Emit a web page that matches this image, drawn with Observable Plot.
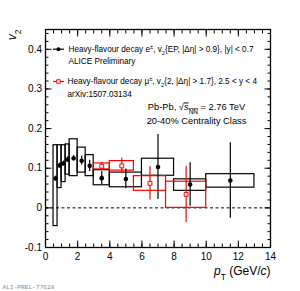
<!DOCTYPE html>
<html><head><meta charset="utf-8">
<script src="https://cdn.jsdelivr.net/npm/d3@7"></script>
<script src="https://cdn.jsdelivr.net/npm/@observablehq/plot@0.6"></script>
<style>body{margin:0;background:#fff} svg{display:block}</style>
</head><body><div id="chart"></div>
<script>
// Heavy-flavour decay electrons, v2{EP}
const ePt     = [0.625, 0.875, 1.125, 1.375, 1.75, 2.25, 2.75, 3.5, 5.0, 7.0, 9.0, 11.5];
const eV2     = [0.074, 0.107, 0.112, 0.122, 0.125, 0.119, 0.106, 0.075, 0.073, 0.103, 0.059, 0.069];
const eStat   = [0.006, 0.006, 0.006, 0.007, 0.007, 0.011, 0.014, 0.017, 0.025, 0.082, 0.055, 0.095];
const eBinLo  = [0.5, 0.75, 1.0, 1.25, 1.5, 2.0, 2.5, 3.0, 4.0, 6.0, 8.0, 10.0];
const eBinHi  = [0.75, 1.0, 1.25, 1.5, 2.0, 2.5, 3.0, 4.0, 6.0, 8.0, 10.0, 13.0];
const eSysLo  = [-0.046, 0.050, 0.065, 0.084, 0.080, 0.089, 0.080, 0.057, 0.052, 0.081, 0.043, 0.051];
const eSysHi  = [0.158, 0.158, 0.158, 0.160, 0.173, 0.152, 0.133, 0.095, 0.089, 0.124, 0.072, 0.085];
// Heavy-flavour decay muons, v2{2}
const mPt     = [3.5, 4.75, 6.5, 8.75];
const mV2     = [0.105, 0.106, 0.062, 0.034];
const mStat   = [0.010, 0.020, 0.042, 0.071];
const mBinLo  = [3.0, 4.0, 5.5, 7.5];
const mBinHi  = [4.0, 5.5, 7.5, 10.0];
const mSysLo  = [0.097, 0.094, 0.043, 0.000];
const mSysHi  = [0.112, 0.118, 0.080, 0.066];
// axes
const xMajor = [0, 2, 4, 6, 8, 10, 12, 14];
const yMajor = [-0.1, 0, 0.1, 0.2, 0.3, 0.4];
const xMinor = d3.range(0, 14.001, 0.5);
const yMinor = d3.range(-0.1, 0.4501, 0.02);

const eRows = ePt.map((x, i) => ({x, v: eV2[i], s: eStat[i], x1: eBinLo[i], x2: eBinHi[i], y1: eSysLo[i], y2: eSysHi[i]}));
const mRows = mPt.map((x, i) => ({x, v: mV2[i], s: mStat[i], x1: mBinLo[i], x2: mBinHi[i], y1: mSysLo[i], y2: mSysHi[i]}));

const RED = "#ff0000";
const FONT = "'Liberation Sans', Arial, Helvetica, sans-serif";
const lineSym = {draw(ctx) { ctx.moveTo(-5.5, 0); ctx.lineTo(5.5, 0); }};

const label = (str, o) => Plot.text([str], {text: d => d, frameAnchor: "top-left", className: "rich", fill: "#000", ...o});

const chart = Plot.plot({
  width: 300, height: 291,
  marginLeft: 45, marginRight: 30, marginTop: 29, marginBottom: 44,
  style: {fontFamily: FONT, background: "#fff", overflow: "visible"},
  x: {domain: [0, 14], axis: null},
  y: {domain: [-0.1, 0.45], axis: null},
  marks: [
    Plot.ruleY([0], {stroke: "#000", strokeWidth: 1, strokeDasharray: "3,2.5"}),
    Plot.rect(eRows, {x1: "x1", x2: "x2", y1: "y1", y2: "y2", fill: "none", stroke: "#000", strokeWidth: 1.2}),
    Plot.rect(mRows, {x1: "x1", x2: "x2", y1: "y1", y2: "y2", fill: "none", stroke: RED, strokeWidth: 1.2}),
    Plot.ruleX(eRows, {x: "x", y1: d => d.v - d.s, y2: d => d.v + d.s, stroke: "#000", strokeWidth: 1.2}),
    Plot.ruleX(mRows, {x: "x", y1: d => d.v - d.s, y2: d => d.v + d.s, stroke: RED, strokeWidth: 1.2}),
    Plot.dot(eRows, {x: "x", y: "v", r: 2.3, fill: "#000", stroke: "none"}),
    Plot.dot(mRows, {x: "x", y: "v", r: 2.2, symbol: "square", fill: "#fff", stroke: RED, strokeWidth: 1}),
    // axes: ticks inside on all sides
    Plot.axisX({anchor: "bottom", ticks: xMinor, tickSize: -3.5, tickFormat: () => "", label: null}),
    Plot.axisX({anchor: "bottom", ticks: xMajor, tickSize: -6.5, tickFormat: () => "", label: null}),
    Plot.axisX({anchor: "top", ticks: xMinor, tickSize: -3.5, tickFormat: () => "", label: null}),
    Plot.axisX({anchor: "top", ticks: xMajor, tickSize: -6.5, tickFormat: () => "", label: null}),
    Plot.axisY({anchor: "left", ticks: yMinor, tickSize: -3.5, tickFormat: () => "", label: null}),
    Plot.axisY({anchor: "left", ticks: yMajor, tickSize: -6.5, tickFormat: () => "", label: null}),
    Plot.axisY({anchor: "right", ticks: yMinor, tickSize: -3.5, tickFormat: () => "", label: null}),
    Plot.axisY({anchor: "right", ticks: yMajor, tickSize: -6.5, tickFormat: () => "", label: null}),
    Plot.axisX({anchor: "bottom", ticks: xMajor, tickSize: 0, tickPadding: 5, fontSize: 10, tickFormat: d => String(d), label: null}),
    Plot.axisY({anchor: "left", ticks: yMajor, tickSize: 0, tickPadding: 3.5, fontSize: 10, tickFormat: d => String(d), label: null}),
    Plot.frame({stroke: "#000", strokeWidth: 1.3}),
    // legend swatches
    Plot.dot([0], {frameAnchor: "top-left", dx: 13, dy: 19.7, symbol: lineSym, stroke: "#000", strokeWidth: 1.2}),
    Plot.dot([0], {frameAnchor: "top-left", dx: 13, dy: 19.7, r: 2, fill: "#000"}),
    Plot.dot([0], {frameAnchor: "top-left", dx: 13, dy: 52, symbol: lineSym, stroke: RED, strokeWidth: 1.2}),
    Plot.dot([0], {frameAnchor: "top-left", dx: 13, dy: 52, r: 2, symbol: "square", fill: "#fff", stroke: RED, strokeWidth: 1}),
    // legend texts
    label("Heavy-flavour decay e^{±}, v_{2}{EP, |Δη| > 0.9}, |y| < 0.7", {dx: 23, dy: 19.7, fontSize: 8.2, textAnchor: "start", lineAnchor: "middle"}),
    label("ALICE Preliminary", {dx: 23, dy: 31.7, fontSize: 8.2, textAnchor: "start", lineAnchor: "middle"}),
    label("Heavy-flavour decay μ^{±}, v_{2}{2, |Δη| > 1.7}, 2.5 < y < 4", {dx: 22, dy: 52, fontSize: 8.2, textAnchor: "start", lineAnchor: "middle"}),
    label("arXiv:1507.03134", {dx: 22, dy: 65, fontSize: 8.2, textAnchor: "start", lineAnchor: "middle"}),
    label("Pb-Pb, √`{s}={NN} = 2.76 TeV", {dx: 151, dy: 78, fontSize: 9.3, textAnchor: "middle", lineAnchor: "middle"}),
    label("20-40% Centrality Class", {dx: 151, dy: 92, fontSize: 9.3, textAnchor: "middle", lineAnchor: "middle"}),
    // axis titles
    label("~{v}_{2}", {dx: -33, dy: 0, rotate: -90, fontSize: 12, textAnchor: "end", lineAnchor: "middle"}),
    label("~{p}_{T} (GeV/~{c})", {frameAnchor: "bottom-right", dx: 0, dy: 19, fontSize: 12, textAnchor: "end", lineAnchor: "top"}),
    label("ALI-PREL-77628", {frameAnchor: "bottom-left", dx: -43, dy: 40, fontSize: 6.2, fill: "#888", fontFamily: "'Liberation Mono', 'DejaVu Sans Mono', monospace", textAnchor: "start", lineAnchor: "middle"})
  ]
});

// rich text: _{sub} ^{sup} ~{italic} `{italic overline} ={sub overline}
const NS = "http://www.w3.org/2000/svg";
chart.querySelectorAll("g.rich text").forEach(t => {
  const s = t.textContent;
  while (t.firstChild) t.removeChild(t.firstChild);
  const re = /([_^~`=])\{([^}]*)\}/g;
  const add = (str, kind) => {
    if (!str) return;
    const ts = document.createElementNS(NS, "tspan");
    ts.textContent = str;
    if (kind === "_" || kind === "=") { ts.setAttribute("baseline-shift", "sub"); ts.setAttribute("font-size", "70%"); }
    if (kind === "^") { ts.setAttribute("baseline-shift", "super"); ts.setAttribute("font-size", "70%"); }
    if (kind === "~" || kind === "`") ts.setAttribute("font-style", "italic");
    if (kind === "`" || kind === "=") ts.setAttribute("text-decoration", "overline");
    t.appendChild(ts);
  };
  let last = 0, m;
  while ((m = re.exec(s))) { add(s.slice(last, m.index)); add(m[2], m[1]); last = re.lastIndex; }
  add(s.slice(last));
});

document.getElementById("chart").appendChild(chart);
</script>
</body></html>
